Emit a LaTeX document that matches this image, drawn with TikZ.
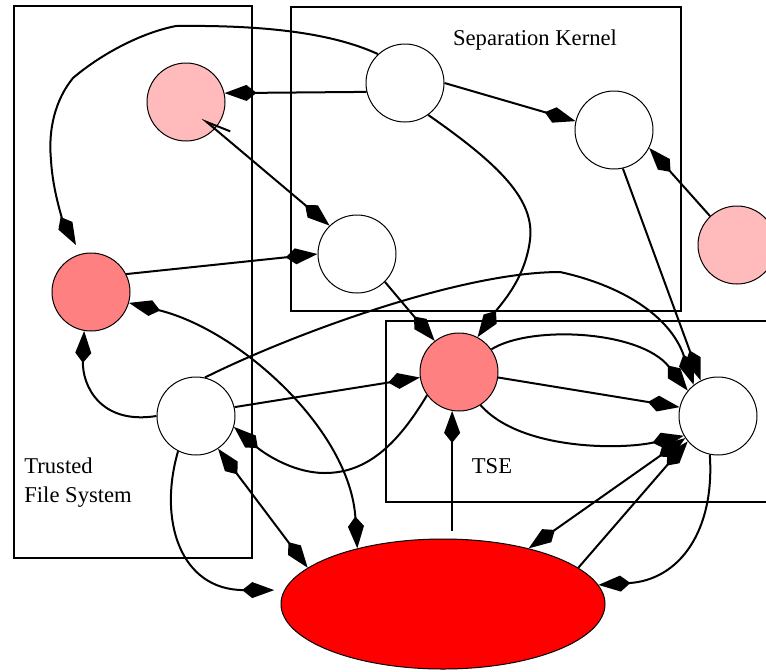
\documentclass[tikz,border=0pt]{standalone}
\usepackage{fontspec}
\setmainfont{Liberation Serif}
\usetikzlibrary{arrows.meta,shapes.geometric}

\definecolor{lightpink}{RGB}{255,187,187}
\definecolor{salmon}{RGB}{255,128,128}

\begin{document}
\begin{tikzpicture}[x=0.5pt,y=-0.5pt,
  every node/.style={font=\fontsize{11.3}{14.5}\selectfont},
  >={Kite[length=16pt,width=8pt,inset=5pt]},
  proc/.style={circle,draw,line width=0.5pt,minimum size=39pt,inner sep=0pt},
  store/.style={ellipse,draw,line width=0.5pt,fill=red,minimum width=162pt,minimum height=65pt,inner sep=0pt},
  area/.style={draw,line width=1pt},
  arr/.style={->,line width=1pt},
  darr/.style={<->,line width=1pt}]
\useasboundingbox (0,0) rectangle (766,671);
% areas
\draw[area] (14,6) rectangle (252,558);
\draw[area] (291,7) rectangle (681,311);
\draw[area] (386,321) rectangle (800,502);
\node[anchor=base] (sk) at (535,45) {Separation Kernel};
\node[anchor=base west,align=left,inner sep=0pt] (tfs) at (24,502) {Trusted\\File System};
\node[anchor=base] (tse) at (492,473) {TSE};
% processes
\node[proc,fill=lightpink] (A) at (186,102) {};
\node[proc,fill=white] (B) at (405,83) {};
\node[proc,fill=white] (C) at (614,130) {};
\node[proc,fill=lightpink] (D) at (737,245) {};
\node[proc,fill=white] (E) at (357,254) {};
\node[proc,fill=salmon] (F) at (91,292) {};
\node[proc,fill=white] (G) at (196,416) {};
\node[proc,fill=salmon] (H) at (459,372) {};
\node[proc,fill=white] (I) at (718,416) {};
\node[store] (J) at (443,604) {};
% flows
\draw[arr] (B.193) -- (A.13);
\draw[arr] (B.east) -- (C.167);
\draw[arr,shorten >=5pt] (B.133) .. controls (330,32) and (260,25) .. (176,26)
  .. controls (140,33) and (100,55) .. (73,78)
  .. controls (55,100) and (48,130) .. (51,160)
  .. controls (53,195) and (65,225) .. (F.105);
\draw[arr] (B.-54) .. controls (500,165) and (535,200) .. (530,240)
  .. controls (525,280) and (500,305) .. (H.62);
\draw[{Straight Barb[right,length=12pt,width=8pt]}->,line width=1pt] ([shift={(16,16)}]A.center) -- (E.134);
\draw[arr] (F.27) -- (E.west);
\draw[arr] (D.133) -- (C.-27);
\draw[arr] (C.-77) -- (I.116);
\draw[arr] (E.-45) -- (H.128);
\draw[arr] (G.77) .. controls (290,335) and (460,272) .. (560,272)
  .. controls (620,285) and (670,315) .. (I.128);
\draw[arr] (G.13) -- (H.188);
\draw[arr] (G.west) .. controls (100,425) and (82,385) .. (F.-100);
\draw[arr] (H.216) .. controls (400,440) and (370,473) .. (325,473)
  .. controls (290,473) and (260,450) .. (G.-16);
\draw[arr] (H.35) .. controls (530,325) and (640,330) .. (I.140);
\draw[arr] (H.-8) -- (I.167);
\draw[arr] (H.-57) .. controls (520,450) and (620,450) .. (I.210);
\draw[darr] (F.-16) .. controls (240,330) and (350,430) .. (J.147);
\draw[darr] (G.-56) -- (J.165);
\draw[arr,shorten >=5pt] (G.-117) .. controls (158,520) and (180,590) .. (J.175);
\draw[arr,shorten <=4pt] (H.-100 |- J.north) -- (H.-100);
\draw[darr] (J.33) -- (I.214);
\draw[arr] (J.15) -- (I.220);
\draw[arr] (I.-102) .. controls (715,530) and (680,580) .. (J.7);
\end{tikzpicture}
\end{document}
